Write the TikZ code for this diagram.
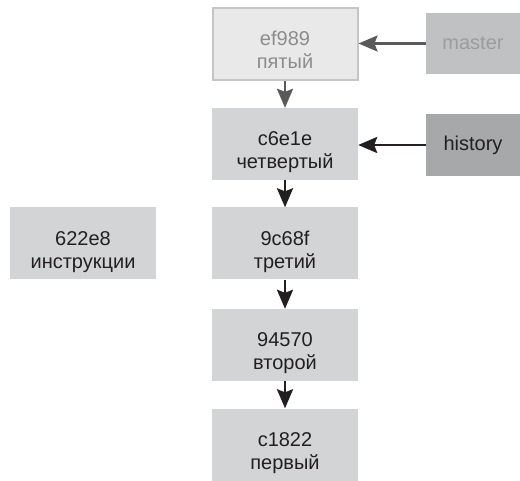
\documentclass[tikz,border=0pt]{standalone}
\usepackage{fontspec}
\setmainfont{Liberation Sans}
\usetikzlibrary{arrows.meta}
\definecolor{boxfill}{HTML}{D3D4D6}
\definecolor{fadefill}{HTML}{E9E9EA}
\definecolor{fadeline}{HTML}{C4C5C7}
\definecolor{fadetext}{HTML}{8C8C8C}
\definecolor{masterfill}{HTML}{C0C1C3}
\definecolor{mastertext}{HTML}{9C9C9C}
\definecolor{histfill}{HTML}{A7A8AA}
\definecolor{ink}{HTML}{231F20}
\definecolor{grayarrow}{HTML}{5A5A5A}
\begin{document}
\begin{tikzpicture}[x=1pt,y=-1pt,
  commit/.style={fill=boxfill, minimum width=146pt, minimum height=72pt, inner sep=0pt,
    align=center, text=ink, font=\fontsize{20}{23}\selectfont,
    text height=50pt, text depth=0pt},
  faded/.style={commit, fill=fadefill, draw=fadeline, line width=2pt, minimum width=145pt,
    minimum height=72pt, text=fadetext},
  label/.style={minimum width=94pt, inner sep=0pt, align=center, font=\fontsize{20}{24}\selectfont},
  arr/.style={-{Stealth[length=19pt,width=16pt,inset=3pt]}, line width=2.5pt, draw=ink},
  grayarr/.style={arr, draw=grayarrow}]
\useasboundingbox (0,0) rectangle (520,481);
\node[faded] (ef989) at (285,44) {ef989\\пятый};
\node[commit] (c6e1e) at (285,144) {c6e1e\\четвертый};
\node[commit] (c9c68f) at (285,243.5) {9c68f\\третий};
\node[commit] (c94570) at (285,345) {94570\\второй};
\node[commit] (c1822) at (285,444.5) {c1822\\первый};
\node[commit] (c622e8) at (83,243.5) {622e8\\инструкции};
\node[label, fill=masterfill, text=mastertext, minimum height=61pt] (master) at (473,43.5) {master};
\node[label, fill=histfill, text=ink, minimum height=62pt] (history) at (473,145) {history};
\draw[grayarr] (ef989) -- (c6e1e);
\draw[arr] (c6e1e) -- (c9c68f);
\draw[arr] (c9c68f) -- (c94570);
\draw[arr] (c94570) -- (c1822);
\draw[grayarr] (master.west) -- (master.west -| ef989.east);
\draw[arr] (history.west) -- (history.west -| c6e1e.east);
\end{tikzpicture}
\end{document}
